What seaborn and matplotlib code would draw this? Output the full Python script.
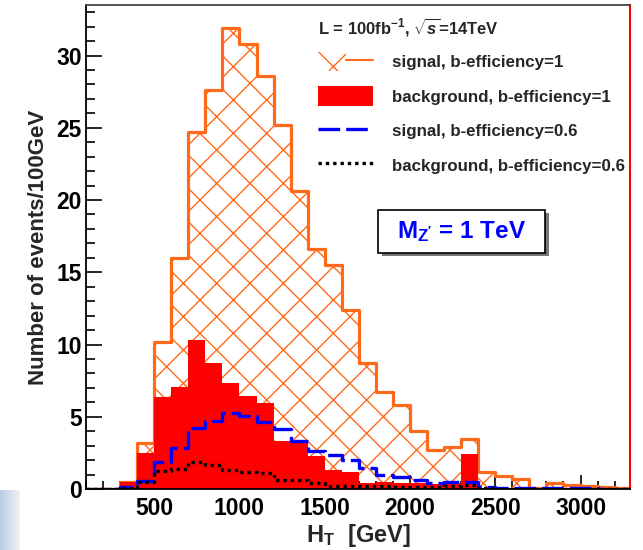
import numpy as np
import matplotlib
matplotlib.use("Agg")
import matplotlib.pyplot as plt
from matplotlib.patches import Patch, Rectangle
from matplotlib.lines import Line2D
from matplotlib.legend_handler import HandlerTuple
from matplotlib.ticker import MultipleLocator
import seaborn as sns

# H_T bins, 100 GeV wide, lower edges 100 ... 3200
bin_lo = [100, 200, 300, 400, 500, 600, 700, 800, 900, 1000, 1100, 1200, 1300,
          1400, 1500, 1600, 1700, 1800, 1900, 2000, 2100, 2200, 2300, 2400,
          2500, 2600, 2700, 2800, 2900, 3000, 3100, 3200]
bin_width = 100

sig_eff1 = [0, 0, 0.5, 3.2, 10.2, 16.0, 24.7, 27.6, 31.9, 30.8, 28.6, 25.2, 20.6,
            16.6, 15.5, 12.4, 8.75, 6.7, 5.8, 4.0, 2.7, 2.9, 3.45, 1.15,
            0.93, 0.69, 0.1, 0.42, 0.27, 0.2, 0.17, 0.07]
bkg_eff1 = [0, 0, 0.46, 2.47, 6.35, 7.05, 10.28, 8.71, 7.32, 6.44, 5.98, 3.35, 3.3,
            2.29, 1.3, 1.15, 0.44, 0.5, 0.4, 0.44, 0.35, 0.44, 2.4, 0.1,
            0.05, 0.05, 0, 0, 0, 0, 0, 0]
sig_eff06 = [0, 0, 0.15, 0.55, 1.85, 2.86, 4.2, 4.73, 5.29, 5.06, 4.67, 4.14, 3.33,
             2.63, 2.36, 2.0, 1.43, 1.0, 0.8, 0.62, 0.44, 0.47, 0.51, 0.12,
             0.1, 0.08, 0.05, 0.05, 0.05, 0.05, 0.03, 0.02]
bkg_eff06 = [0, 0, 0.1, 0.5, 1.25, 1.39, 1.85, 1.66, 1.32, 1.2, 1.1, 0.62, 0.62,
             0.44, 0.23, 0.23, 0.2, 0.2, 0.15, 0.15, 0.15, 0.2, 0.28, 0.05,
             0.03, 0.03, 0.03, 0.03, 0.03, 0.03, 0.03, 0.03]

labels = ["signal, b-efficiency=1", "background, b-efficiency=1",
          "signal, b-efficiency=0.6", "background, b-efficiency=0.6"]

ORANGE = "#ff6a1a"
RED = "#ff0000"
BLUE = "#0000ff"

sns.set_theme(style="white")
plt.rcParams["font.family"] = ["Liberation Sans", "DejaVu Sans"]
plt.rcParams["font.weight"] = "bold"
plt.rcParams["mathtext.fontset"] = "custom"
plt.rcParams["mathtext.rm"] = "Liberation Sans:bold"
plt.rcParams["mathtext.bf"] = "Liberation Sans:bold"
plt.rcParams["mathtext.it"] = "Liberation Sans:bold:italic"
plt.rcParams["mathtext.sf"] = "Liberation Sans:bold"
plt.rcParams["hatch.color"] = ORANGE
plt.rcParams["hatch.linewidth"] = 1.0

edges = [float(e) for e in bin_lo] + [float(bin_lo[-1] + bin_width)]
centers = [lo + bin_width / 2 for lo in bin_lo]

fig = plt.figure(figsize=(6.43, 5.5), dpi=100)
ax = fig.add_axes([86 / 643, 61 / 550, 544 / 643, 484 / 550])

# signal b-eff=1 : hatched orange step
sns.histplot(x=centers, weights=sig_eff1, bins=edges, element="step", fill=True,
             color=ORANGE, ax=ax)
poly = ax.collections[-1]
poly.set_facecolor("none")
poly.set_edgecolor(ORANGE)
poly.set_hatch("x")
poly.set_linewidth(2.3)

# background b-eff=1 : solid red
sns.histplot(x=centers, weights=bkg_eff1, bins=edges, element="step", fill=True,
             color=RED, alpha=1, linewidth=0, ax=ax)

# b-eff=0.6 lines
sns.histplot(x=centers, weights=sig_eff06, bins=edges, element="step", fill=False,
             color=BLUE, linewidth=2.4, linestyle=(0, (6.5, 1.8)), ax=ax)
sns.histplot(x=centers, weights=bkg_eff06, bins=edges, element="step", fill=False,
             color="black", linewidth=2.4, linestyle=(0, (1, 1.2)), ax=ax)

ax.set_xlim(100, 3290)
ax.set_ylim(0, 33.5)
ax.xaxis.set_major_locator(MultipleLocator(500))
ax.xaxis.set_minor_locator(MultipleLocator(100))
ax.yaxis.set_major_locator(MultipleLocator(5))
ax.yaxis.set_minor_locator(MultipleLocator(1))
ax.tick_params(which="both", direction="in", bottom=True, left=True,
               top=False, right=False, colors="black", labelsize=16.5, width=1.2)
ax.tick_params(axis="y", which="major", length=11.5, pad=3)
ax.tick_params(axis="y", which="minor", length=6.5)
ax.tick_params(axis="x", which="major", length=10, pad=6)
ax.tick_params(axis="x", which="minor", length=5.5)
for lab in ax.get_xticklabels() + ax.get_yticklabels():
    lab.set_fontweight("bold")

for side in ["left", "bottom", "top"]:
    ax.spines[side].set_color("black")
    ax.spines[side].set_linewidth(1.3)
ax.spines["top"].set_color("#444444")
ax.spines["right"].set_color(RED)
ax.spines["right"].set_linewidth(1.5)

ax.set_xlabel(r"H$_\mathregular{T}$  [GeV]", fontsize=17, fontweight="bold", labelpad=1)
ax.set_ylabel("Number of events/100GeV", fontsize=16, fontweight="bold", labelpad=5)

handles = [
    (Patch(facecolor="none", edgecolor=ORANGE, hatch="x", linewidth=0),
     Line2D([], [], color=ORANGE, lw=1.5)),
    Patch(facecolor=RED, edgecolor="none"),
    Line2D([], [], color=BLUE, lw=2.4, linestyle=(0, (6.5, 1.8))),
    Line2D([], [], color="black", lw=2.4, linestyle=(0, (1, 1.2))),
]
leg = ax.legend(handles, labels, loc="upper left",
                bbox_to_anchor=(318 / 643, 1 - 16 / 550), bbox_transform=fig.transFigure,
                frameon=False, fontsize=12.2, borderpad=0, borderaxespad=0,
                handlelength=3.25, handleheight=1.38, labelspacing=0.9,
                handletextpad=1.1, alignment="left",
                title=r"L = 100fb$^{-1}$, $\sqrt{s}$=14TeV", title_fontsize=12,
                handler_map={tuple: HandlerTuple(ndivide=None)})
leg._legend_box.sep = 10
for t in leg.get_texts():
    t.set_fontweight("bold")
leg.get_title().set_fontweight("bold")

# M_Z' box with shadow
fig.patches.append(Rectangle((382 / 643, 1 - 256 / 550), 167 / 643, 43 / 550,
                             transform=fig.transFigure, facecolor="#777777",
                             edgecolor="none", zorder=5))
fig.patches.append(Rectangle((378 / 643, 1 - 253 / 550), 167 / 643, 43 / 550,
                             transform=fig.transFigure, facecolor="white",
                             edgecolor="black", linewidth=1.2, zorder=6))
fig.text(462 / 643, 1 - 232 / 550, r"M$_{\mathregular{Z'}}$ = 1 TeV", color=BLUE,
         fontsize=17.5, fontweight="bold", ha="center", va="center", zorder=7)

# faint blue gradient strip at lower left corner
gax = fig.add_axes([0, 0, 20 / 643, 60 / 550])
grad = np.linspace(1, 0, 64).reshape(1, -1)
gax.imshow(grad, aspect="auto", cmap=sns.light_palette("#b8cbe8", as_cmap=True),
           vmin=0, vmax=1)
gax.axis("off")

fig.savefig("out.png", dpi=100)
